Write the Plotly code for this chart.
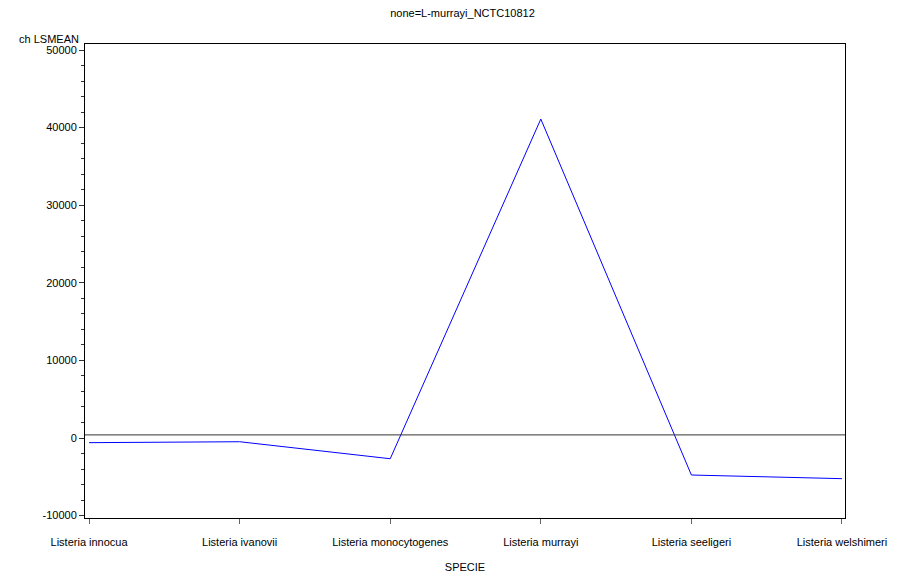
import plotly.graph_objects as go

species = ["Listeria innocua", "Listeria ivanovii", "Listeria monocytogenes",
           "Listeria murrayi", "Listeria seeligeri", "Listeria welshimeri"]
lsmean = [-600, -480, -2670, 41100, -4770, -5240]
ref_value = 400
y_ticks = [-10000, 0, 10000, 20000, 30000, 40000, 50000]
y_ticktext = ["-10000", "0", "10000", "20000", "30000", "40000", "50000"]

FONT = "Liberation Sans, Arial, sans-serif"

fig = go.Figure()
fig.add_trace(go.Scatter(x=list(range(len(species))), y=lsmean, mode="lines",
                         line=dict(color="#0000ff", width=1), showlegend=False,
                         hoverinfo="skip"))
fig.add_shape(type="line", xref="paper", x0=0, x1=1, yref="y", y0=ref_value, y1=ref_value,
              line=dict(color="#333333", width=1))

fig.update_layout(
    width=900, height=566,
    margin=dict(l=77, r=63, t=36, b=56, autoexpand=False),
    paper_bgcolor="white", plot_bgcolor="white",
    font=dict(family=FONT, size=11, color="black"),
    title=dict(text="none=L-murrayi_NCTC10812", x=0.505, xanchor="center",
               y=0.991, yanchor="middle", font=dict(size=11)),
    xaxis=dict(range=[-0.027, 5.02], tickvals=list(range(len(species))), ticktext=species,
               automargin=False,
               showgrid=False, zeroline=False, showline=True, mirror=True,
               linecolor="black", linewidth=1, ticks="outside", ticklen=5,
               ticklabelstandoff=9,
               tickcolor="#666666", tickfont=dict(size=11),
               title=dict(text="SPECIE", font=dict(size=11), standoff=16)),
    yaxis=dict(range=[-10309, 50773], tickvals=y_ticks, ticktext=y_ticktext,
               automargin=False,
               showgrid=False, zeroline=False, showline=True, mirror=True,
               linecolor="black", linewidth=1, ticks="outside", ticklen=5,
               tickcolor="#333333", tickfont=dict(size=11),
               minor=dict(dtick=2000, tick0=0, ticks="outside", ticklen=3, tickcolor="#333333")),
)
fig.add_annotation(text="ch LSMEAN", xref="paper", yref="paper", x=0, y=1,
                   xanchor="right", yanchor="bottom", xshift=-4, yshift=-3,
                   showarrow=False, font=dict(size=11))
fig.write_html("out.html")
